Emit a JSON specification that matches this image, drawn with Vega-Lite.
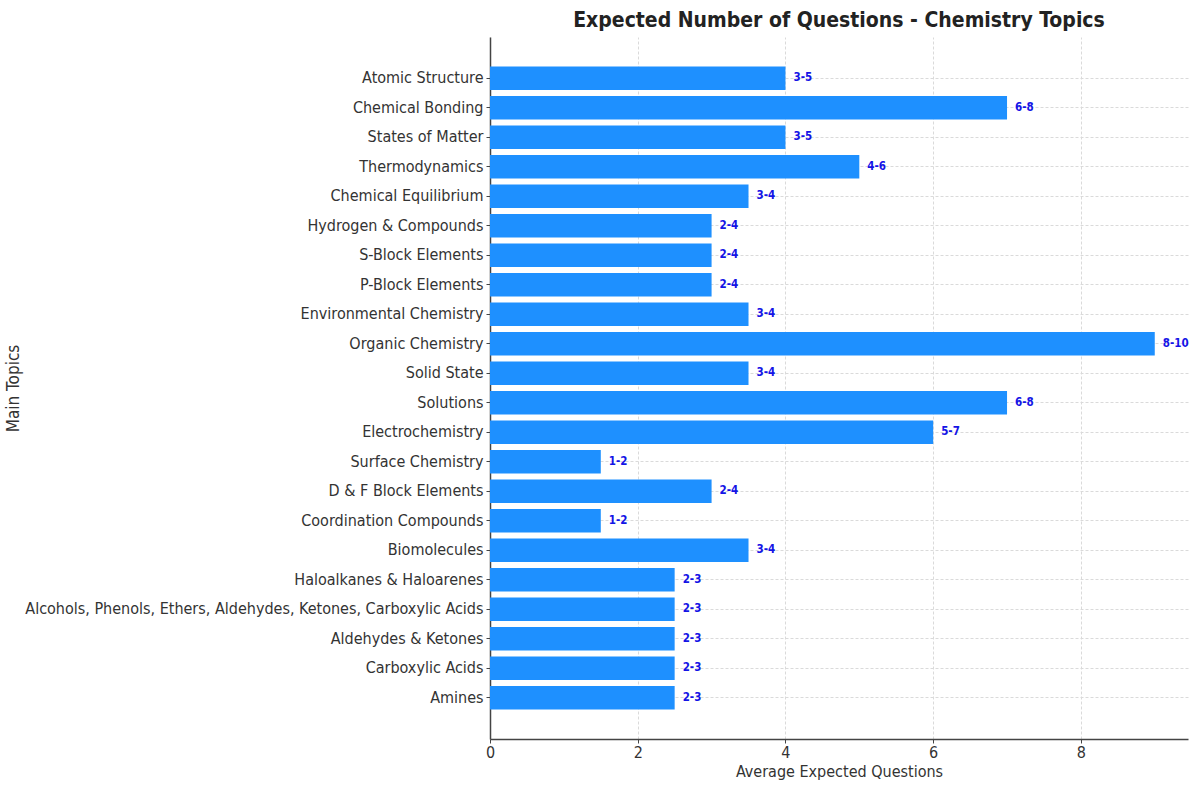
{
  "$schema": "https://vega.github.io/schema/vega-lite/v6.json",
  "width": 698,
  "height": 702,
  "autosize": {"type": "none"},
  "padding": {"left": 490, "top": 37, "right": 12, "bottom": 54},
  "background": "white",
  "title": {
    "text": "Expected Number of Questions - Chemistry Topics",
    "font": "DejaVu Sans Condensed",
    "fontSize": 21,
    "fontWeight": "bold",
    "color": "#222",
    "anchor": "middle",
    "offset": 6
  },
  "config": {
    "view": {"stroke": null},
    "axis": {
      "labelFont": "DejaVu Sans Condensed",
      "titleFont": "DejaVu Sans Condensed",
      "labelFontSize": 16,
      "titleFontSize": 16,
      "titleFontWeight": "normal",
      "labelColor": "#333",
      "titleColor": "#333",
      "domainColor": "#444",
      "domainWidth": 1.5,
      "tickColor": "#444",
      "tickSize": 4,
      "gridColor": "#dadada",
      "gridDash": [3, 2],
      "gridWidth": 1
    }
  },
  "data": {
    "values": [
      {"topic": "Atomic Structure", "avg": 4, "range": "3-5"},
      {"topic": "Chemical Bonding", "avg": 7, "range": "6-8"},
      {"topic": "States of Matter", "avg": 4, "range": "3-5"},
      {"topic": "Thermodynamics", "avg": 5, "range": "4-6"},
      {"topic": "Chemical Equilibrium", "avg": 3.5, "range": "3-4"},
      {"topic": "Hydrogen & Compounds", "avg": 3, "range": "2-4"},
      {"topic": "S-Block Elements", "avg": 3, "range": "2-4"},
      {"topic": "P-Block Elements", "avg": 3, "range": "2-4"},
      {"topic": "Environmental Chemistry", "avg": 3.5, "range": "3-4"},
      {"topic": "Organic Chemistry", "avg": 9, "range": "8-10"},
      {"topic": "Solid State", "avg": 3.5, "range": "3-4"},
      {"topic": "Solutions", "avg": 7, "range": "6-8"},
      {"topic": "Electrochemistry", "avg": 6, "range": "5-7"},
      {"topic": "Surface Chemistry", "avg": 1.5, "range": "1-2"},
      {"topic": "D & F Block Elements", "avg": 3, "range": "2-4"},
      {"topic": "Coordination Compounds", "avg": 1.5, "range": "1-2"},
      {"topic": "Biomolecules", "avg": 3.5, "range": "3-4"},
      {"topic": "Haloalkanes & Haloarenes", "avg": 2.5, "range": "2-3"},
      {"topic": "Alcohols, Phenols, Ethers, Aldehydes, Ketones, Carboxylic Acids", "avg": 2.5, "range": "2-3"},
      {"topic": "Aldehydes & Ketones", "avg": 2.5, "range": "2-3"},
      {"topic": "Carboxylic Acids", "avg": 2.5, "range": "2-3"},
      {"topic": "Amines", "avg": 2.5, "range": "2-3"}
    ]
  },
  "encoding": {
    "y": {
      "field": "topic",
      "type": "nominal",
      "sort": null,
      "scale": {"paddingInner": 0.2, "paddingOuter": 1.0},
      "axis": {
        "title": "Main Topics",
        "titleFontSize": 17,
        "grid": true,
        "bandPosition": 0.5,
        "labelLimit": 600,
        "labelPadding": 3,
        "titleX": -468
      }
    },
    "x": {
      "field": "avg",
      "type": "quantitative",
      "scale": {"domain": [0, 9.45], "nice": false},
      "axis": {
        "title": "Average Expected Questions",
        "values": [0, 2, 4, 6, 8],
        "grid": true,
        "labelFlush": false,
        "labelPadding": 1,
        "titlePadding": 3
      }
    }
  },
  "layer": [
    {
      "mark": {"type": "bar", "color": "#1E90FF"}
    },
    {
      "mark": {
        "type": "text",
        "align": "left",
        "dx": 8,
        "font": "DejaVu Sans Condensed",
        "fontSize": 11.5,
        "fontWeight": "bold",
        "color": "#1414E6"
      },
      "encoding": {"text": {"field": "range"}}
    }
  ]
}
